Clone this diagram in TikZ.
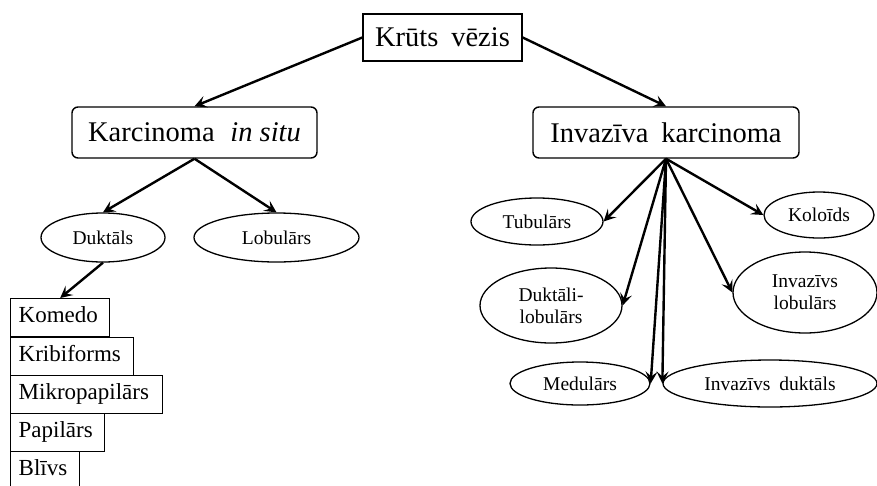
\documentclass[tikz,border=0pt]{standalone}
\usepackage{fontspec}
\setmainfont{Liberation Serif}
\usetikzlibrary{shapes.geometric,arrows.meta}
\begin{document}
\begin{tikzpicture}[x=1pt,y=-1pt,
  big/.style={font=\fontsize{28.5}{32}\selectfont},
  sq/.style={draw, line width=1.4pt, inner sep=0pt},
  rbox/.style={draw, line width=1.4pt, rounded corners=6pt, inner sep=0pt},
  ell/.style={draw, ellipse, line width=1.3pt, inner sep=0pt, font=\fontsize{19.5}{22}\selectfont, align=center},
  lbox/.style={draw, line width=1.4pt, inner sep=0pt, anchor=north west, font=\fontsize{23}{26}\selectfont, text height=15pt, text depth=5pt, align=left},
  arr/.style={line width=2.4pt, -{Stealth[length=12pt,width=12pt,inset=5pt]}}]
\useasboundingbox (0,0) rectangle (877,485);
\node[sq,big, minimum width=159pt, minimum height=47pt] (top) at (442.5,37.5) {Krūts\hspace{0.2em} vēzis};
\node[rbox,big, minimum width=245pt, minimum height=51pt] (kis) at (194.5,132.5) {Karcinoma\hspace{0.3em} \textit{in situ}};
\node[rbox,big, minimum width=266pt, minimum height=51pt] (inv) at (666,132.5) {Invazīva\hspace{0.2em} karcinoma};
\node[ell, minimum width=124pt, minimum height=49pt] (dukt) at (103,237.5) {Duktāls};
\node[ell, minimum width=165pt, minimum height=49pt] (lob) at (276.5,237.5) {Lobulārs};
\node[lbox, text width=99pt, minimum height=38pt] (kom) at (10,298) {\hspace*{8pt}Komedo};
\node[lbox, text width=123pt, minimum height=38pt] (krib) at (10,337) {\hspace*{8pt}Kribiforms};
\node[lbox, text width=152pt, minimum height=38pt] (mik) at (10,375) {\hspace*{8pt}Mikropapilārs};
\node[lbox, text width=94pt, minimum height=38pt] (pap) at (10,413) {\hspace*{8pt}Papilārs};
\node[lbox, text width=69pt, minimum height=38pt] (bli) at (10,451) {\hspace*{8pt}Blīvs};
\node[ell, minimum width=132pt, minimum height=47pt] (tub) at (537,221.5) {Tubulārs};
\node[ell, minimum width=110pt, minimum height=46pt] (kol) at (819,215) {Koloīds};
\node[ell, minimum width=142pt, minimum height=75pt] (dl) at (551,305.5) {Duktāli-\\lobulārs};
\node[ell, minimum width=144pt, minimum height=81pt] (il) at (805,292.5) {Invazīvs\\lobulārs};
\node[ell, minimum width=140pt, minimum height=43pt] (med) at (580,383.5) {Medulārs};
\node[ell, minimum width=214pt, minimum height=47pt] (id) at (770,383.5) {Invazīvs\hspace{0.2em} duktāls};
\draw[arr] (top.west) -- (kis.north);
\draw[arr] (top.east) -- (inv.north);
\draw[arr] (kis.south) -- (dukt.north);
\draw[arr] (kis.south) -- (lob.north);
\draw[arr] (dukt.south) -- (kom.north);
\draw[arr] (inv.south) -- (tub.east);
\draw[arr] (inv.south) -- (kol.west);
\draw[arr] (inv.south) -- (dl.east);
\draw[arr] (inv.south) -- (il.west);
\draw[arr] (inv.south) -- (med.east);
\draw[arr] (inv.south) -- (id.west);
\end{tikzpicture}
\end{document}
